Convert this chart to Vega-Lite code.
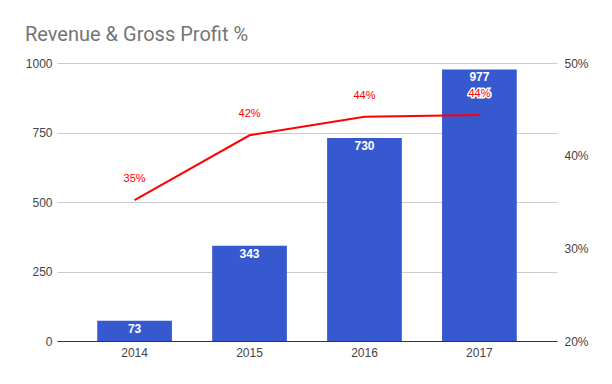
{
  "$schema": "https://vega.github.io/schema/vega-lite/v6.json",
  "width": 500,
  "height": 278,
  "autosize": "none",
  "padding": {"left": 57, "top": 63, "right": 55, "bottom": 43},
  "background": "white",
  "config": {"view": {"stroke": null}},
  "title": {"text": "Revenue & Gross Profit %", "anchor": "start", "frame": "group", "font": "Roboto", "fontSize": 20, "fontWeight": "normal", "color": "#757575", "dx": -32, "offset": 12},
  "data": {"values": [
    {"year": "2014", "revenue": 73, "gp": 0.352, "gpLabel": "35%"},
    {"year": "2015", "revenue": 343, "gp": 0.422, "gpLabel": "42%"},
    {"year": "2016", "revenue": 730, "gp": 0.442, "gpLabel": "44%"},
    {"year": "2017", "revenue": 977, "gp": 0.444, "gpLabel": "44%"}
  ]},
  "encoding": {
    "x": {"field": "year", "type": "nominal", "sort": null,
      "scale": {"paddingInner": 0.35, "paddingOuter": 0.35},
      "axis": {"title": null, "labelAngle": 0, "ticks": false, "domainColor": "#333333", "labelColor": "#444444", "labelFont": "Liberation Sans", "labelFontSize": 12, "labelPadding": 6}}
  },
  "layer": [
    {
      "encoding": {
        "y": {"field": "revenue", "type": "quantitative", "scale": {"domain": [0, 1000]},
          "axis": {"title": null, "orient": "left", "values": [0, 250, 500, 750, 1000], "format": "d", "grid": true, "gridColor": "#cccccc", "domain": false, "ticks": false, "labelColor": "#444444", "labelFont": "Liberation Sans", "labelFontSize": 12, "labelPadding": 5}}
      },
      "layer": [
        {"mark": {"type": "bar", "color": "#3659CF"}},
        {"mark": {"type": "text", "baseline": "top", "dy": 3, "color": "white", "font": "Liberation Sans", "fontSize": 12, "fontWeight": "bold"},
          "encoding": {"text": {"field": "revenue", "type": "quantitative"}}}
      ]
    },
    {
      "encoding": {
        "y": {"field": "gp", "type": "quantitative", "scale": {"domain": [0.2, 0.5]},
          "axis": {"title": null, "orient": "right", "values": [0.2, 0.3, 0.4, 0.5], "format": ".0%", "grid": false, "domain": false, "ticks": false, "labelColor": "#444444", "labelFont": "Liberation Sans", "labelFontSize": 12, "labelPadding": 7}}
      },
      "layer": [
        {"mark": {"type": "line", "color": "#ff0000", "strokeWidth": 2}},
        {"mark": {"type": "text", "baseline": "alphabetic", "dy": -18, "stroke": "white", "strokeWidth": 3, "fill": "white", "font": "Liberation Sans", "fontSize": 11},
          "encoding": {"text": {"field": "gpLabel"}}},
        {"mark": {"type": "text", "baseline": "alphabetic", "dy": -18, "color": "#ff0000", "font": "Liberation Sans", "fontSize": 11},
          "encoding": {"text": {"field": "gpLabel"}}}
      ]
    }
  ],
  "resolve": {"scale": {"y": "independent"}}
}
